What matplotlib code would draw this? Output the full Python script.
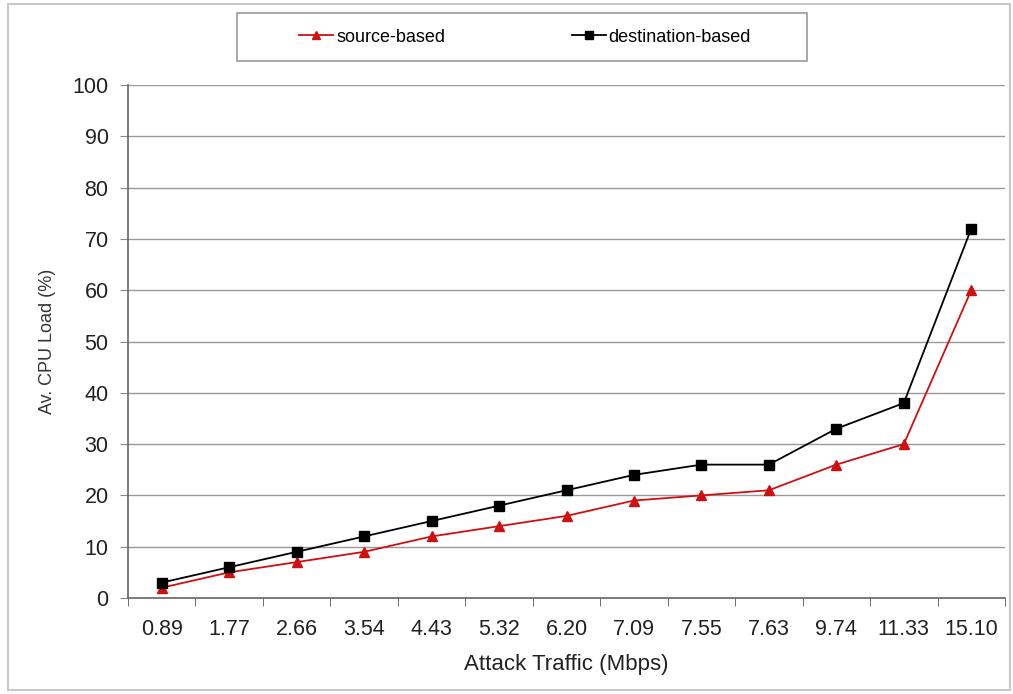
import matplotlib
matplotlib.use("Agg")
import matplotlib.pyplot as plt
from matplotlib.patches import Rectangle

plt.rcParams['font.family'] = ['Liberation Sans', 'DejaVu Sans']

# Data
traffic = ["0.89", "1.77", "2.66", "3.54", "4.43", "5.32", "6.20",
           "7.09", "7.55", "7.63", "9.74", "11.33", "15.10"]
source_based = [2, 5, 7, 9, 12, 14, 16, 19, 20, 21, 26, 30, 60]
destination_based = [3, 6, 9, 12, 15, 18, 21, 24, 26, 26, 33, 38, 72]
yticks = list(range(0, 101, 10))

W, H = 1013, 694
fig = plt.figure(figsize=(W / 100, H / 100), dpi=100)
# outer chart border
fig.patches.append(Rectangle((8 / W, 4 / H), 1002 / W, 686 / H, transform=fig.transFigure,
                             fill=False, edgecolor="#c8c8c8", linewidth=1.5))

ax = fig.add_axes([128 / W, 1 - 598 / H, 877 / W, 513 / H])
xs = list(range(len(traffic)))

ax.plot(xs, source_based, color="#d01010", marker="^", markersize=7,
        linewidth=1.3, label="source-based")
ax.plot(xs, destination_based, color="black", marker="s", markersize=7,
        linewidth=1.3, label="destination-based")

ax.set_xlim(-0.5, len(traffic) - 0.5)
ax.set_ylim(0, 100)
ax.set_yticks(yticks)
ax.set_yticklabels([str(v) for v in yticks], fontsize=15.5, color="#222222")
ax.yaxis.grid(True, color="#9a9a9a", linewidth=1)
ax.set_axisbelow(True)

# categorical axis: labels centred, tick marks between categories
ax.set_xticks(xs)
ax.set_xticklabels(traffic, fontsize=15.5, color="#222222")
ax.tick_params(axis="x", which="major", length=0, pad=15)
ax.set_xticks([x - 0.5 for x in range(len(traffic) + 1)], minor=True)
ax.tick_params(axis="x", which="minor", length=6, color="#555555", direction="out")
ax.tick_params(axis="y", length=6, color="#888888", pad=8)

for s in ["top", "right"]:
    ax.spines[s].set_visible(False)
for s in ["left", "bottom"]:
    ax.spines[s].set_color("#666666")
    ax.spines[s].set_linewidth(1.2)

ax.set_xlabel("Attack Traffic (Mbps)", fontsize=16, labelpad=10, color="#222222")
ax.set_ylabel("Av. CPU Load (%)", fontsize=13, labelpad=12, color="#333333")

# legend frame drawn separately so its padding can match the original
fig.patches.append(Rectangle((237 / W, 1 - 61 / H), 570 / W, 48 / H, transform=fig.transFigure,
                             fill=False, edgecolor="#999999", linewidth=1.2))
fig.legend(loc="center", bbox_to_anchor=(525 / W, 1 - 37 / H), ncol=2,
           fontsize=13, frameon=False, columnspacing=7.0, handlelength=1.9,
           handletextpad=0.15, borderpad=0, markerscale=0.75)

fig.savefig("out.png", dpi=100)
